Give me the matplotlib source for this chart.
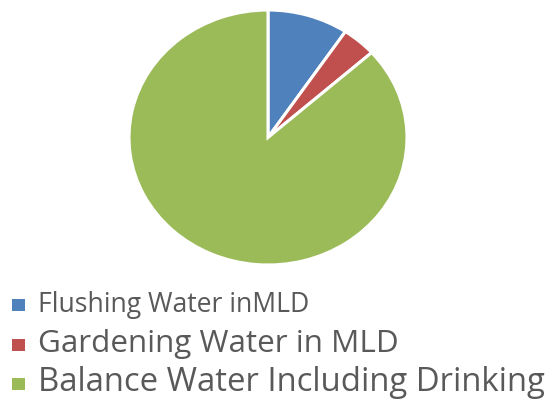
import matplotlib
matplotlib.use("Agg")
import matplotlib.pyplot as plt
from matplotlib.patches import Rectangle

# data
labels = ["Flushing Water inMLD", "Gardening Water in MLD", "Balance Water Including Drinking"]
values = [9.4, 4.0, 86.6]
colors = ["#4F81BD", "#C0504D", "#9BBB59"]
label_sizes = [19.1, 22.6, 23.7]

W, H = 547, 399
fig = plt.figure(figsize=(W / 100, H / 100), dpi=100)

# pie axes (slightly stretched horizontally like the original)
ax = fig.add_axes([129 / W, 1 - 265 / H, 278 / W, 255 / H])
ax.pie(values, colors=colors, startangle=90, counterclock=False,
       wedgeprops=dict(edgecolor="white", linewidth=2.2))
ax.set_aspect("auto")
ax.set_xlim(-1, 1)
ax.set_ylim(-1, 1)
ax.axis("off")

# legend drawn by hand
baselines = [312, 352, 391]
for lab, col, fs, yb in zip(labels, colors, label_sizes, baselines):
    fig.add_artist(Rectangle((11.5 / W, 1 - (yb - 1) / H), 13 / W, 12 / H,
                             transform=fig.transFigure, facecolor=col, edgecolor="none"))
    fig.text(38 / W, 1 - yb / H, lab, fontsize=fs, color="#595959",
             family="Open Sans", va="baseline", ha="left")

fig.savefig("out.png", dpi=100)
